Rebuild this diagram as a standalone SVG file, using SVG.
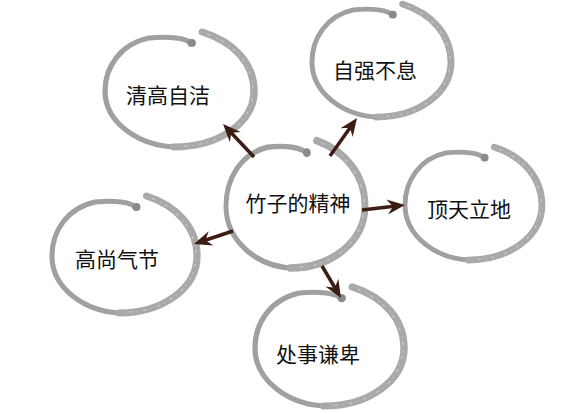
<svg xmlns="http://www.w3.org/2000/svg" xmlns:xlink="http://www.w3.org/1999/xlink" width="564" height="414" viewBox="0 0 564 414">
<style>
.wet{fill:none;stroke:#a0a0a0;stroke-width:5;stroke-linecap:round}
.dry{fill:none;stroke:#a9a9a9;stroke-width:7;stroke-linecap:round}
.grain{fill:none;stroke:#c4c4c4;stroke-width:1.5;stroke-dasharray:3 4 1 6}
.blob{fill:#8a8a8a}
.lbl{font-family:"Noto Sans CJK SC","Noto Sans",sans-serif;font-size:21px;fill:#111;text-anchor:middle}
.ln{stroke:#3b1d14;stroke-width:3.5;fill:none}
.hd{fill:#3b1d14}
</style>
<defs>
<g id="ring">
<path class="wet" d="M12,-48 C8,-54 -10,-56 -28,-54 C-55,-48 -70,-25 -70,0 C-70,32 -38,57 0,57"/>
<path class="dry" d="M-5,57 C38,57 71,32 71,0 C71,-28 52,-50 22,-60"/>
<path class="grain" d="M5,56 C42,55 70,30 70,0 C70,-28 50,-49 24,-59"/>
<circle class="blob" cx="12" cy="-49" r="4"/>
</g>
</defs>
<rect width="564" height="414" fill="#fff"/>
<g id="node-center">
<use xlink:href="#ring" transform="translate(295,206) scale(0.986,1.088)"/>
<text class="lbl" x="298" y="211">竹子的精神</text>
</g>
<g id="node-qinggao">
<use xlink:href="#ring" transform="translate(179,91) scale(1.057,0.982)"/>
<text class="lbl" x="168" y="103">清高自洁</text>
</g>
<g id="node-ziqiang">
<use xlink:href="#ring" transform="translate(381,62) scale(0.986,0.965)"/>
<text class="lbl" x="375" y="78">自强不息</text>
</g>
<g id="node-dingtian">
<use xlink:href="#ring" transform="translate(473,205) scale(0.971,0.965)"/>
<text class="lbl" x="469" y="217">顶天立地</text>
</g>
<g id="node-gaoshang">
<use xlink:href="#ring" transform="translate(124,256) scale(1.029,1.0)"/>
<text class="lbl" x="117" y="267">高尚气节</text>
</g>
<g id="node-chushi">
<use xlink:href="#ring" transform="translate(329,348) scale(1.057,1.018)"/>
<text class="lbl" x="318" y="362">处事谦卑</text>
</g>
<g id="connectors">
<line class="ln" x1="254" y1="157" x2="230.5" y2="132"/>
<polygon class="hd" points="223,124 229.9,142.3 231.2,132.7 240.8,132"/>
<line class="ln" x1="330" y1="156" x2="350.6" y2="127"/>
<polygon class="hd" points="357,118 340.5,128.3 350,127.8 352.7,137"/>
<line class="ln" x1="362" y1="210" x2="394.1" y2="206.3"/>
<polygon class="hd" points="405,205 386.3,199.6 393.1,206.4 388,214.5"/>
<line class="ln" x1="233" y1="231" x2="204.4" y2="240.5"/>
<polygon class="hd" points="194,244 213.4,245.4 205.4,240.2 208.7,231.2"/>
<line class="ln" x1="322" y1="266" x2="335.4" y2="288.5"/>
<polygon class="hd" points="341,298 338.3,278.7 334.9,287.7 325.4,286.4"/>
</g>
</svg>
